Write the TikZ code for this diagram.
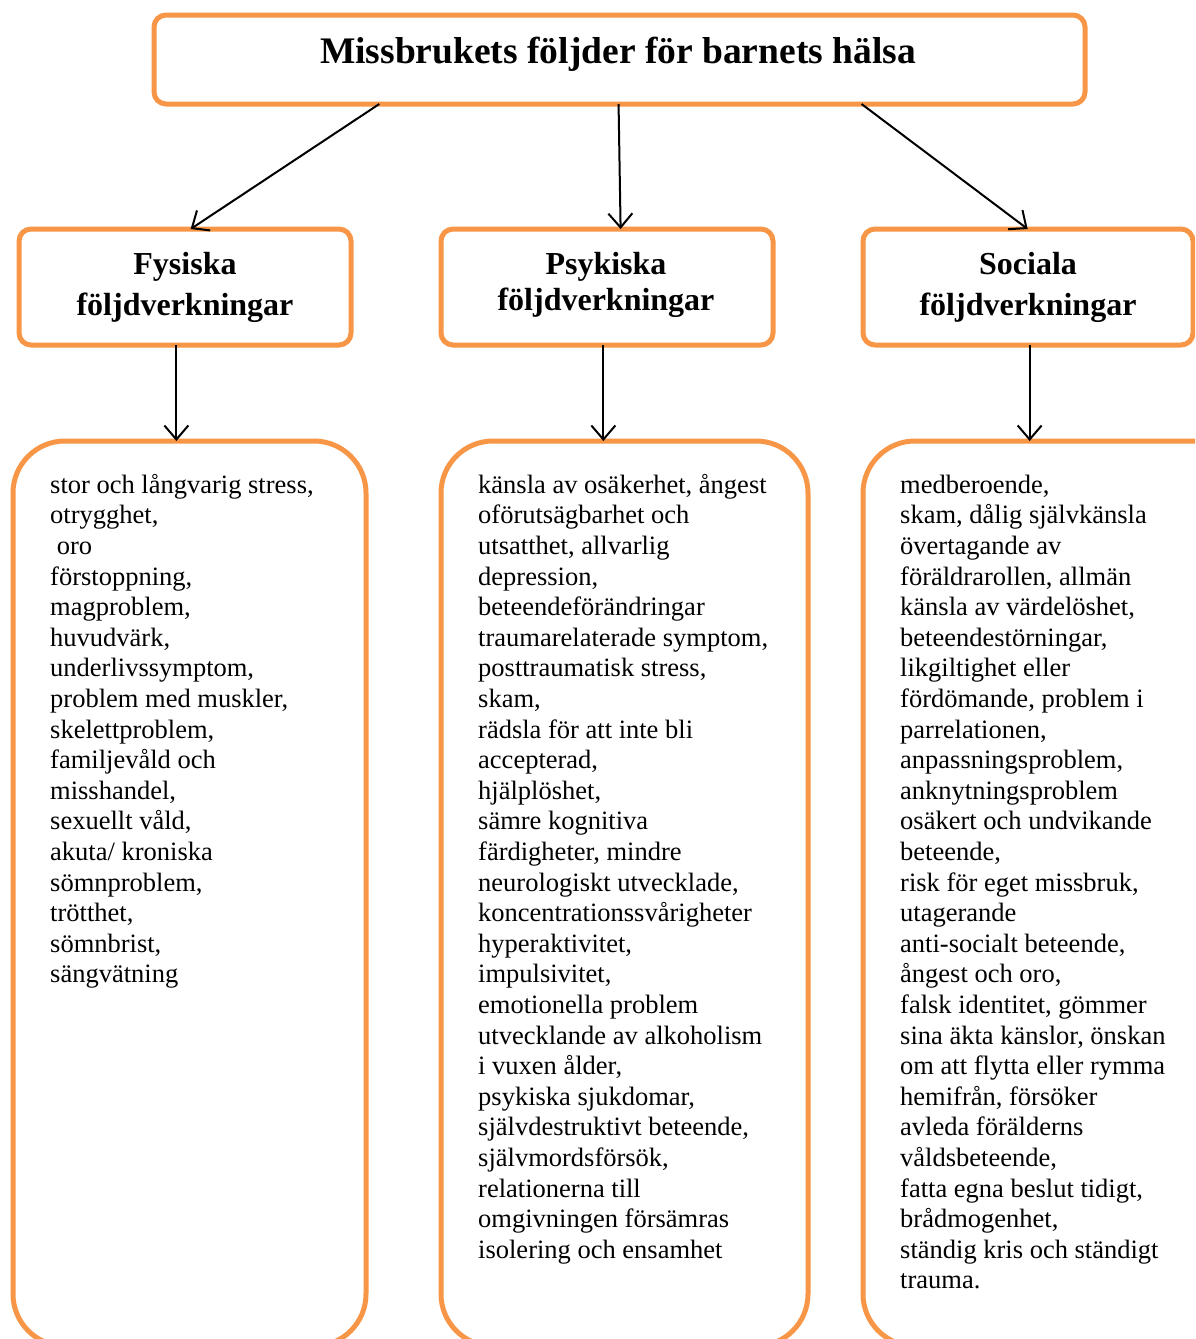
\documentclass[tikz,border=0pt]{standalone}
\usepackage{fontspec}
\setmainfont{Liberation Serif}
\usetikzlibrary{arrows.meta,calc}
\definecolor{accent}{HTML}{F79646}
\newcommand{\topline}[1]{\rule{0pt}{#1}}
\tikzset{
  x=1pt,y=-1pt,
  hbox/.style={draw=accent,line width=5pt,rounded corners=12pt,fill=white,inner sep=0pt,outer sep=0pt,anchor=north west},
  lbox/.style={draw=accent,line width=5pt,rounded corners=52pt,fill=white,inner sep=0pt,outer sep=0pt,anchor=north west},
  htext/.style={align=center,inner sep=0pt,anchor=north},
  ltext/.style={font=\fontsize{26.5}{30.6}\selectfont,align=left,inner sep=0pt,anchor=north west},
  arr/.style={-{Straight Barb[length=14pt,width=24pt]},line width=2pt,black}
}
\begin{document}
\begin{tikzpicture}
\useasboundingbox (0,0) rectangle (1195,1339);
\clip (0,0) rectangle (1195,1339);
% boxes
\node[hbox,minimum width=931pt,minimum height=89pt] (title) at (154,15) {};
\node[font=\fontsize{37.5}{43}\selectfont\bfseries,inner sep=0pt,anchor=base] (titletext) at (618,63) {Missbrukets följder för barnets hälsa};
\node[hbox,minimum width=332pt,minimum height=116pt] (h1) at (19,229) {};
\node[hbox,minimum width=332pt,minimum height=116pt] (h2) at (441,229) {};
\node[hbox,minimum width=330pt,minimum height=116pt] (h3) at (863,229) {};
\node[htext,font=\fontsize{32}{41.5}\selectfont\bfseries] (h1t) at (185,244) {\topline{30pt}Fysiska\\följdverkningar};
\node[htext,font=\fontsize{32}{36}\selectfont\bfseries] (h2t) at (606,244) {\topline{30pt}Psykiska\\följdverkningar};
\node[htext,font=\fontsize{32}{41.5}\selectfont\bfseries] (h3t) at (1028,244) {\topline{30pt}Sociala\\följdverkningar};
\node[lbox,minimum width=353pt,minimum height=905pt] (b1) at (13,441) {};
\node[lbox,minimum width=367pt,minimum height=905pt] (b2) at (441,441) {};
\node[lbox,minimum width=380pt,minimum height=905pt] (b3) at (863,441) {};
% arrows
\draw[arr] ($(title.south west)!0.242!(title.south east)$) -- ($(h1.north west)!0.517!(h1.north east)$);
\draw[arr] ($(title.south west)!0.499!(title.south east)$) -- ($(h2.north west)!0.541!(h2.north east)$);
\draw[arr] ($(title.south west)!0.760!(title.south east)$) -- ($(h3.north west)!0.499!(h3.north east)$);
\draw[arr] ($(h1.south west)!0.474!(h1.south east)$) coordinate (s1) -- (s1 |- b1.north);
\draw[arr] ($(h2.south west)!0.489!(h2.south east)$) coordinate (s2) -- (s2 |- b2.north);
\draw[arr] ($(h3.south west)!0.505!(h3.south east)$) coordinate (s3) -- (s3 |- b3.north);
% texts
\node[ltext] (t1) at (50,468) {\topline{25pt}stor och långvarig stress,\\otrygghet,\\\ oro\\förstoppning,\\magproblem,\\huvudvärk,\\underlivssymptom,\\problem med muskler,\\skelettproblem,\\familjevåld och\\misshandel,\\sexuellt våld,\\akuta/ kroniska\\sömnproblem,\\trötthet,\\sömnbrist,\\sängvätning};
\node[ltext] (t2) at (478,468) {\topline{25pt}känsla av osäkerhet, ångest\\oförutsägbarhet och\\utsatthet, allvarlig\\depression,\\beteendeförändringar\\traumarelaterade symptom,\\posttraumatisk stress,\\skam,\\rädsla för att inte bli\\accepterad,\\hjälplöshet,\\sämre kognitiva\\färdigheter, mindre\\neurologiskt utvecklade,\\koncentrationssvårigheter\\hyperaktivitet,\\impulsivitet,\\emotionella problem\\utvecklande av alkoholism\\i vuxen ålder,\\psykiska sjukdomar,\\självdestruktivt beteende,\\självmordsförsök,\\relationerna till\\omgivningen försämras\\isolering och ensamhet};
\node[ltext] (t3) at (900,468) {\topline{25pt}medberoende,\\skam, dålig självkänsla\\övertagande av\\föräldrarollen, allmän\\känsla av värdelöshet,\\beteendestörningar,\\likgiltighet eller\\fördömande, problem i\\parrelationen,\\anpassningsproblem,\\anknytningsproblem\\osäkert och undvikande\\beteende,\\risk för eget missbruk,\\utagerande\\anti-socialt beteende,\\ångest och oro,\\falsk identitet, gömmer\\sina äkta känslor, önskan\\om att flytta eller rymma\\hemifrån, försöker\\avleda förälderns\\våldsbeteende,\\fatta egna beslut tidigt,\\brådmogenhet,\\ständig kris och ständigt\\trauma.};
\end{tikzpicture}
\end{document}
